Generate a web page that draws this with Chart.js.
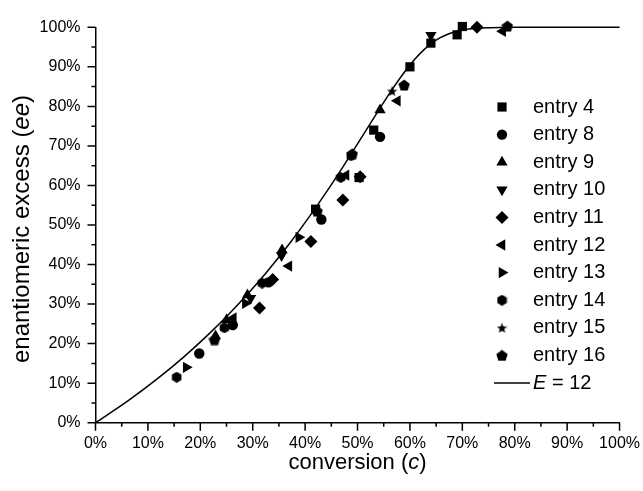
<!DOCTYPE html>
<html>
<head>
<meta charset="utf-8">
<script src="https://cdn.jsdelivr.net/npm/chart.js@4/dist/chart.umd.min.js"></script>
<style>
  html, body { margin: 0; padding: 0; background: #fff; }
  canvas { display: block; }
</style>
</head>
<body>
<canvas id="myChart" width="643" height="491"></canvas>
<script>
// theoretical curve, E = 12
const curveC  = [0, 6.18, 11.77, 16.81, 21.36, 25.48, 29.2, 32.57, 37.03, 40.88, 44.21, 47.1, 50.39, 53.78, 56.56, 58.9, 60.92, 62.7, 64.31, 65.8, 67.22, 68.57, 69.89, 71.19, 72.46, 74.99, 77.5, 80, 90, 100];
const curveEE = [0, 5.52, 11.07, 16.59, 22.08, 27.48, 32.78, 37.92, 45.31, 52.23, 58.62, 64.46, 71.34, 78.49, 84.18, 88.58, 91.89, 94.35, 96.12, 97.38, 98.26, 98.87, 99.28, 99.55, 99.72, 99.9, 99.97, 100, 100, 100];

// measured points, conversion (%) and ee (%)
const entry4C  = [42.0, 50.3, 53.1, 60.0, 64.0, 69.0, 70.0];
const entry4EE = [54.0, 62.0, 74.0, 90.0, 96.0, 98.1, 100.2];
const entry8C  = [19.8, 26.2, 33.0, 43.1, 54.3];
const entry8EE = [17.5, 24.7, 35.5, 51.4, 72.3];
const entry9C  = [22.9, 25.0, 29.0, 35.6, 54.3];
const entry9EE = [21.9, 26.0, 32.3, 43.7, 79.1];
const entry10C  = [29.6, 35.5, 64.0];
const entry10EE = [31.5, 42.3, 98.0];
const entry11C  = [31.3, 33.8, 41.1, 47.2, 50.5, 72.8];
const entry11EE = [29.0, 36.2, 45.8, 56.3, 62.2, 100.0];
const entry12C  = [26.3, 36.9, 47.8, 57.6, 77.7];
const entry12EE = [26.5, 39.6, 62.6, 81.4, 99.0];
const entry13C  = [17.3, 28.6, 38.8];
const entry13EE = [14.0, 30.2, 46.9];
const entry14C  = [15.5, 24.6, 31.8, 46.8, 48.8];
const entry14EE = [11.5, 24.0, 35.3, 62.0, 67.5];
const entry15C  = [56.6];
const entry15EE = [83.9];
const entry16C  = [22.7, 42.3, 49.0, 58.9, 78.6];
const entry16EE = [21.0, 53.5, 68.0, 85.4, 100.3];

const tickValues = [0, 10, 20, 30, 40, 50, 60, 70, 80, 90, 100];

// small canvases for marker shapes Chart.js doesn't have
function makeShape(kind, size) {
    const c = document.createElement('canvas');
    c.width = size; c.height = size;
    const g = c.getContext('2d');
    g.fillStyle = '#000';
    g.beginPath();
    const r = size / 2;
    let n = 6, inner = 1, cy = r;
    if (kind === 'pentagon') { n = 5; cy = r + 0.6; }
    if (kind === 'star') { n = 10; inner = 0.42; cy = r + 0.6; }
    for (let i = 0; i < n; i++) {
        const a = -Math.PI / 2 + i * 2 * Math.PI / n;
        const rr = (kind === 'star' && i % 2 === 1) ? r * inner : r;
        const px = r + Math.cos(a) * rr, py = cy + Math.sin(a) * rr;
        if (i === 0) g.moveTo(px, py); else g.lineTo(px, py);
    }
    g.closePath();
    g.fill();
    return c;
}

const hexagon = makeShape('hexagon', 11);
const star = makeShape('star', 11);
const pentagon = makeShape('pentagon', 12);

function pts(xs, ys) {
    return xs.map((x, i) => ({ x: x, y: ys[i] }));
}

function entry(label, xs, ys, style, radius, rotation) {
    return {
        label: label,
        data: pts(xs, ys),
        pointStyle: style,
        pointRadius: radius,
        pointRotation: rotation || 0,
        backgroundColor: '#000',
        borderColor: '#000',
        borderWidth: 0,
        showLine: false,
        clip: false
    };
}

const entries = [
    entry('entry 4', entry4C, entry4EE, 'rect', 6.5),
    entry('entry 8', entry8C, entry8EE, 'circle', 5.2),
    entry('entry 9', entry9C, entry9EE, 'triangle', 6.5),
    entry('entry 10', entry10C, entry10EE, 'triangle', 6.5, 180),
    entry('entry 11', entry11C, entry11EE, 'rectRot', 6.5),
    entry('entry 12', entry12C, entry12EE, 'triangle', 6.5, -90),
    entry('entry 13', entry13C, entry13EE, 'triangle', 6.5, 90),
    entry('entry 14', entry14C, entry14EE, hexagon, 5.5),
    entry('entry 15', entry15C, entry15EE, star, 5.5),
    entry('entry 16', entry16C, entry16EE, pentagon, 6)
];

const FONT = '"Liberation Sans", Arial, sans-serif';

// draws text where some parts are italic
function drawParts(ctx, parts, x, y, size, align) {
    let total = 0;
    parts.forEach(p => {
        ctx.font = (p.i ? 'italic ' : '') + size + 'px ' + FONT;
        p.w = ctx.measureText(p.t).width;
        total += p.w;
    });
    let cx = align === 'center' ? x - total / 2 : x;
    parts.forEach(p => {
        ctx.font = (p.i ? 'italic ' : '') + size + 'px ' + FONT;
        ctx.fillText(p.t, cx, y);
        cx += p.w;
    });
}

const decor = {
    id: 'decor',
    afterDraw(chart) {
        const ctx = chart.ctx;
        const area = chart.chartArea;
        const xs = chart.scales.x, ys = chart.scales.y;
        ctx.save();

        // major and minor tick marks, outward
        ctx.strokeStyle = '#000';
        ctx.lineWidth = 1.5;
        ctx.beginPath();
        ys.ticks.forEach(t => {
            const p = ys.getPixelForValue(t.value);
            const len = t.value % 10 === 0 ? 8 : 4;
            ctx.moveTo(area.left - len, p);
            ctx.lineTo(area.left, p);
        });
        xs.ticks.forEach(t => {
            const p = xs.getPixelForValue(t.value);
            const len = t.value % 10 === 0 ? 8 : 4;
            ctx.moveTo(p, area.bottom);
            ctx.lineTo(p, area.bottom + len);
        });
        ctx.stroke();

        // axis titles
        ctx.fillStyle = '#000';
        ctx.textBaseline = 'middle';
        drawParts(ctx, [{ t: 'conversion (' }, { t: 'c', i: true }, { t: ')' }],
            (area.left + area.right) / 2, 463, 22, 'center');
        ctx.save();
        ctx.translate(22, 229);
        ctx.rotate(-Math.PI / 2);
        drawParts(ctx, [{ t: 'enantiomeric excess (' }, { t: 'ee', i: true }, { t: ')' }],
            0, 0, 24, 'center');
        ctx.restore();

        // legend
        const lx = 502, tx = 533, y0 = 107, dy = 27.6;
        chart.data.datasets.forEach((ds, i) => {
            if (i === 0) return;
            const y = y0 + dy * (i - 1);
            ctx.fillStyle = '#000';
            Chart.helpers.drawPoint(ctx, {
                pointStyle: ds.pointStyle,
                radius: ds.pointRadius,
                rotation: ds.pointRotation,
                borderWidth: 0
            }, lx, y);
            ctx.font = '20px ' + FONT;
            ctx.fillText(ds.label, tx, y);
        });
        const ly = y0 + dy * 10;
        ctx.beginPath();
        ctx.lineWidth = 1.5;
        ctx.moveTo(494, ly);
        ctx.lineTo(530, ly);
        ctx.stroke();
        drawParts(ctx, [{ t: 'E', i: true }, { t: ' = 12' }], tx, ly, 20, 'left');
        ctx.restore();
    }
};

const chart = new Chart(document.getElementById('myChart'), {
    type: 'scatter',
    data: {
        datasets: [{
            label: 'E = 12',
            data: pts(curveC, curveEE),
            showLine: true,
            borderColor: '#000',
            borderWidth: 1.5,
            pointRadius: 0,
            cubicInterpolationMode: 'monotone',
            clip: false
        }].concat(entries)
    },
    options: {
        responsive: false,
        animation: false,
        events: [],
        layout: { padding: { left: 0, right: 20.5, top: 27.3, bottom: 0 } },
        plugins: {
            legend: { display: false },
            tooltip: { enabled: false }
        },
        scales: {
            x: {
                type: 'linear',
                min: 0,
                max: 100,
                grid: { display: false },
                border: { display: true, color: '#000', width: 1.5 },
                ticks: {
                    stepSize: 5,
                    autoSkip: false,
                    maxRotation: 0,
                    padding: 3,
                    color: '#000',
                    font: { family: FONT, size: 16 },
                    callback: v => tickValues.includes(v) ? v + '%' : ''
                },
                afterFit: s => { s.height = 68.3; }
            },
            y: {
                type: 'linear',
                min: 0,
                max: 100,
                grid: { display: false },
                border: { display: true, color: '#000', width: 1.5 },
                ticks: {
                    stepSize: 5,
                    autoSkip: false,
                    padding: 7,
                    color: '#000',
                    font: { family: FONT, size: 16 },
                    callback: v => tickValues.includes(v) ? v + '%' : ''
                },
                afterFit: s => { s.width = 95.5; }
            }
        }
    },
    plugins: [decor]
});
</script>
</body>
</html>
